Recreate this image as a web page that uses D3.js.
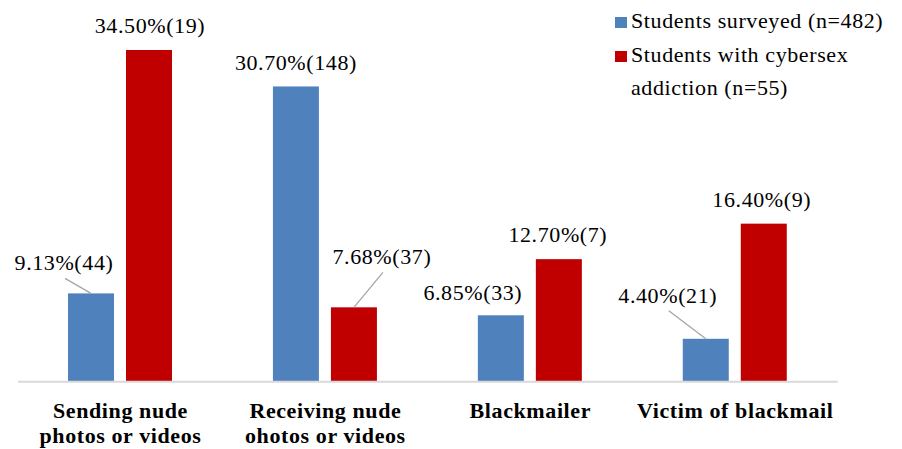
<!DOCTYPE html>
<html>
<head>
<meta charset="utf-8">
<script src="https://cdn.jsdelivr.net/npm/d3@7"></script>
<style>
  html, body { margin: 0; padding: 0; background: #fff; }
  svg { display: block; }
</style>
</head>
<body>
<svg id="chart" width="902" height="449"></svg>
<script>
// ---- data ----
const categories = ["Sending nude|photos or videos", "Receiving nude|ohotos or videos", "Blackmailer", "Victim of blackmail"];
const seriesNames = ["Students surveyed (n=482)", "Students with cybersex|addiction (n=55)"];
const surveyedPct = [9.13, 30.70, 6.85, 4.40];
const surveyedN = [44, 148, 33, 21];
const addictedPct = [34.50, 7.68, 12.70, 16.40];
const addictedN = [19, 37, 7, 9];
const pctLabelsSurveyed = ["9.13%", "30.70%", "6.85%", "4.40%"];
const pctLabelsAddicted = ["34.50%", "7.68%", "12.70%", "16.40%"];

// ---- layout / style (not data) ----
const FONT = "'Liberation Serif', Tinos, 'Nimbus Roman', 'DejaVu Serif', serif";
const FS = 22;
const LS = "0.6px";
const colors = ["#4F81BD", "#C00000"];
// label offsets relative to bar top-center: [dx, dy(baseline), leader?]
const labelOffsets = [
  [[-27, -23, true], [1, -17, false]],
  [[0, -16, false], [28, -43, true]],
  [[-28, -15, false], [-1, -17, false]],
  [[-38, -36, true], [-2, -17, false]]
];

const svg = d3.select("#chart").attr("font-family", FONT);
const x0 = d3.scaleBand().domain(d3.range(categories.length)).range([18, 837.7]).paddingInner(0).paddingOuter(0);
const x1 = d3.scaleBand().domain([0, 1]).range([50, 154]).paddingInner(0.207).paddingOuter(0);
const y = d3.scaleLinear().domain([0, 35]).range([381, 45.2]);

const rows = categories.map((c, i) => ({
  i,
  vals: [
    { s: 0, v: surveyedPct[i], label: pctLabelsSurveyed[i] + "(" + surveyedN[i] + ")" },
    { s: 1, v: addictedPct[i], label: pctLabelsAddicted[i] + "(" + addictedN[i] + ")" }
  ]
}));

const g = svg.selectAll("g.grp").data(rows).join("g")
  .attr("class", "grp")
  .attr("transform", d => `translate(${x0(d.i)},0)`);

g.selectAll("rect").data(d => d.vals).join("rect")
  .attr("x", d => x1(d.s))
  .attr("width", x1.bandwidth())
  .attr("y", d => y(d.v))
  .attr("height", d => y(0) - y(d.v))
  .attr("fill", d => colors[d.s]);

// axis baseline
svg.append("line")
  .attr("x1", 18).attr("x2", 837.7)
  .attr("y1", y(0) + 0.8).attr("y2", y(0) + 0.8)
  .attr("stroke", "#d9d9d9").attr("stroke-width", 2);

// data labels with leader lines
rows.forEach(r => {
  r.vals.forEach(d => {
    const off = labelOffsets[r.i][d.s];
    const cx = x0(r.i) + x1(d.s) + x1.bandwidth() / 2;
    const top = y(d.v);
    const lx = cx + off[0], ly = top + off[1];
    svg.append("text")
      .attr("x", lx).attr("y", ly)
      .attr("text-anchor", "middle")
      .attr("font-family", FONT)
      .attr("font-size", FS)
      .attr("letter-spacing", LS)
      .attr("fill", "#000")
      .text(d.label);
    if (off[2]) {
      svg.append("line")
        .attr("x1", lx + 1).attr("y1", ly + 8)
        .attr("x2", cx).attr("y2", top)
        .attr("stroke", "#a6a6a6").attr("stroke-width", 1.3);
    }
  });
});

// category labels
const xAxis = d3.axisBottom(x0).tickSize(0).tickFormat("");
const ax = svg.append("g").attr("transform", `translate(0,${y(0)})`).call(xAxis);
ax.attr("font-family", FONT);
ax.select(".domain").remove();
ax.selectAll(".tick").each(function(d) {
  const lines = categories[d].split("|");
  const t = d3.select(this).append("text")
    .attr("text-anchor", "middle")
    .attr("font-family", FONT)
    .attr("font-size", FS)
    .attr("letter-spacing", LS)
    .attr("font-weight", "bold")
    .attr("fill", "#000");
  lines.forEach((ln, k) => {
    t.append("tspan").attr("x", 0).attr("y", 37 + k * 25).text(ln);
  });
});

// legend
const leg = svg.append("g");
seriesNames.forEach((name, k) => {
  const yy = 28 + k * 34;
  leg.append("rect").attr("x", 615).attr("y", yy - 11).attr("width", 12).attr("height", 11).attr("fill", colors[k]);
  const t = leg.append("text").attr("font-family", FONT).attr("font-size", FS).attr("letter-spacing", LS).attr("fill", "#000");
  name.split("|").forEach((ln, j) => {
    t.append("tspan").attr("x", 631).attr("y", yy + j * 33).text(ln);
  });
});
</script>
</body>
</html>
